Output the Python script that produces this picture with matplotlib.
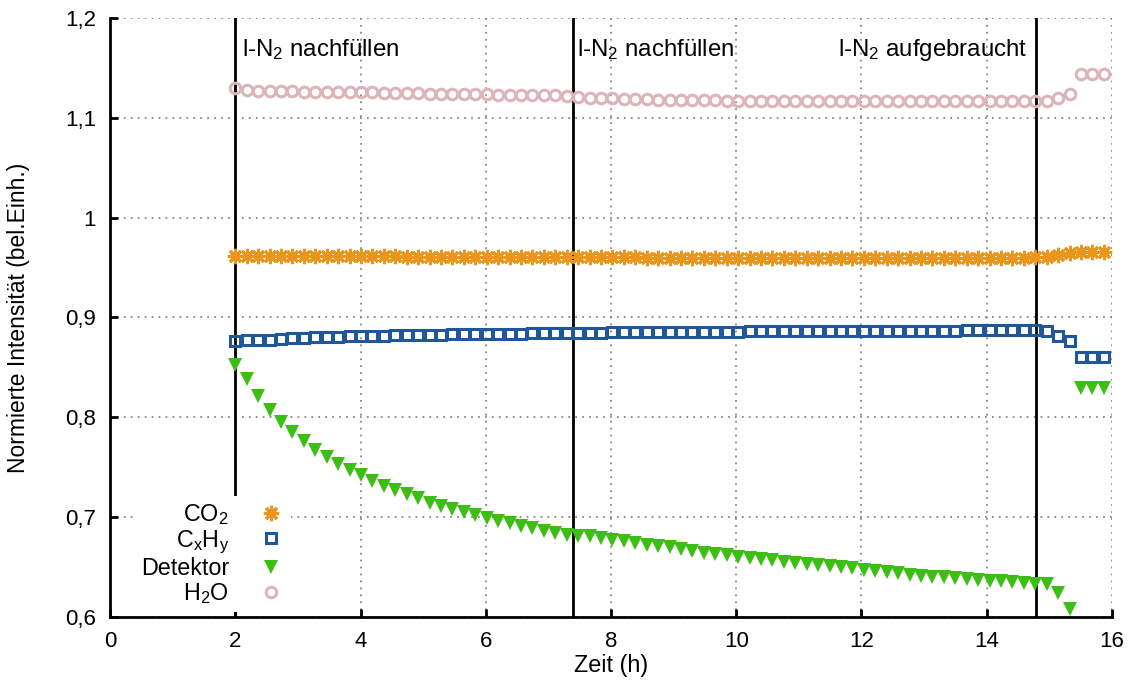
import numpy as np
import matplotlib
matplotlib.use('Agg')
import matplotlib.pyplot as plt
from matplotlib.ticker import FuncFormatter

plt.rcParams['font.family'] = ['Liberation Sans', 'DejaVu Sans']
plt.rcParams['mathtext.default'] = 'regular'
plt.rcParams['font.size'] = 16

# Messwerte (normiert), Abtastung alle ~11 min ab t = 2 h
t_start = 2.0
t_step = 0.1825

detektor = [0.852, 0.8386, 0.8216, 0.8069, 0.7949, 0.7849, 0.7758, 0.7675, 0.7601, 0.7535,
            0.7474, 0.7418, 0.7364, 0.7317, 0.727, 0.723, 0.7195, 0.7143, 0.7113, 0.7083,
            0.7047, 0.7017, 0.699, 0.6963, 0.6937, 0.691, 0.6887, 0.6866, 0.6843, 0.6823,
            0.681, 0.681, 0.679, 0.6773, 0.676, 0.674, 0.6726, 0.6712, 0.6696, 0.6682,
            0.6662, 0.6642, 0.6629, 0.6619, 0.6602, 0.6592, 0.6579, 0.6566, 0.6552, 0.6542,
            0.6529, 0.6516, 0.6508, 0.6499, 0.6489, 0.6472, 0.6456, 0.6446, 0.6436, 0.6422,
            0.6412, 0.6402, 0.6399, 0.6389, 0.6382, 0.6372, 0.6362, 0.6359, 0.6349, 0.6339,
            0.6326, 0.6326, 0.6245, 0.6077, 0.829, 0.829, 0.829]

cxhy = [0.876, 0.8774, 0.8776, 0.8779, 0.8787, 0.879, 0.8797, 0.88, 0.8804, 0.8807,
        0.881, 0.8813, 0.8817, 0.8817, 0.882, 0.8824, 0.8824, 0.8824, 0.8827, 0.883,
        0.883, 0.8834, 0.8837, 0.8837, 0.8837, 0.8837, 0.884, 0.8844, 0.8844, 0.8844,
        0.8847, 0.8847, 0.8847, 0.885, 0.8854, 0.8854, 0.8854, 0.8855, 0.8855, 0.8856,
        0.8857, 0.8857, 0.8858, 0.8858, 0.8859, 0.886, 0.8862, 0.8862, 0.8863, 0.8863,
        0.8864, 0.8864, 0.8865, 0.8865, 0.8866, 0.8866, 0.8867, 0.8867, 0.8868, 0.8868,
        0.8868, 0.8869, 0.8869, 0.8869, 0.887, 0.887, 0.887, 0.887, 0.887, 0.887,
        0.887, 0.8861, 0.8818, 0.8763, 0.8606, 0.8606, 0.8606]

co2 = [0.9612, 0.9612, 0.9612, 0.9612, 0.9612, 0.9612, 0.9612, 0.9612, 0.9612, 0.9612,
       0.9612, 0.9612, 0.9612, 0.9612, 0.9612, 0.961, 0.961, 0.961, 0.961, 0.961,
       0.961, 0.9605, 0.9605, 0.9605, 0.9605, 0.9605, 0.9605, 0.9605, 0.9605, 0.9605,
       0.9605, 0.9605, 0.9605, 0.9605, 0.9605, 0.9605, 0.96, 0.96, 0.96, 0.96,
       0.96, 0.96, 0.96, 0.96, 0.96, 0.96, 0.96, 0.96, 0.96, 0.96,
       0.96, 0.9595, 0.9595, 0.9595, 0.9595, 0.9595, 0.9595, 0.9595, 0.9595, 0.9595,
       0.9595, 0.9595, 0.9595, 0.9595, 0.9595, 0.9595, 0.9595, 0.96, 0.96, 0.96,
       0.9602, 0.961, 0.9628, 0.9646, 0.9657, 0.9657, 0.9657]

h2o = [1.130, 1.128, 1.1272, 1.1269, 1.1266, 1.1266, 1.1262, 1.1262, 1.1259, 1.1259,
       1.1255, 1.1255, 1.1255, 1.1252, 1.1249, 1.1245, 1.1245, 1.1242, 1.1242, 1.124,
       1.124, 1.1238, 1.1235, 1.1232, 1.1232, 1.1228, 1.1228, 1.1225, 1.1225, 1.1222,
       1.1208, 1.1202, 1.1202, 1.1195, 1.1192, 1.1188, 1.1185, 1.1182, 1.118, 1.1178,
       1.1178, 1.1175, 1.1175, 1.1172, 1.1172, 1.117, 1.117, 1.117, 1.117, 1.1168,
       1.1168, 1.1168, 1.1168, 1.1168, 1.1166, 1.1166, 1.1166, 1.1166, 1.1166, 1.1166,
       1.1166, 1.1166, 1.1166, 1.1166, 1.1166, 1.1166, 1.1166, 1.1166, 1.1166, 1.1166,
       1.1166, 1.117, 1.1195, 1.124, 1.144, 1.144, 1.144]

zeit = t_start + t_step * np.arange(len(detektor))

ereignis_zeit = [2.0, 7.4, 14.78]
ereignis_text = ['l-N$_2$ nachfüllen', 'l-N$_2$ nachfüllen', 'l-N$_2$ aufgebraucht']
ereignis_text_x = [2.1, 7.46, 11.62]

xticks = [0, 2, 4, 6, 8, 10, 12, 14, 16]
yticks = [0.6, 0.7, 0.8, 0.9, 1.0, 1.1, 1.2]

fig = plt.figure(figsize=(11.32, 6.85), dpi=100)
ax = fig.add_axes([0.0972, 0.0993, 0.8851, 0.8744])

for x in ereignis_zeit:
    ax.axvline(x, color='black', lw=2, zorder=2)
for x, txt in zip(ereignis_text_x, ereignis_text):
    ax.text(x, 1.162, txt, ha='left', va='baseline', fontsize=17.3)

ax.plot(zeit, co2, ls='none', marker=(8, 2, 0), ms=11, mew=2.2,
        color='#e8961e', label='CO$_2$', zorder=3)
ax.plot(zeit, cxhy, ls='none', marker='s', ms=6.8, mew=2.2, mfc='none',
        color='#1f5799', label='C$_x$H$_y$', zorder=3)
ax.plot(zeit, detektor, ls='none', marker='v', ms=9.5, mew=0,
        color='#3cbe14', label='Detektor', zorder=3)
ax.plot(zeit, h2o, ls='none', marker='o', ms=7.6, mew=2.2, mfc='none',
        color='#dcb4b9', label='H$_2$O', zorder=3)

ax.set_xlim(0, 16)
ax.set_ylim(0.6, 1.2)
ax.set_xticks(xticks)
ax.set_yticks(yticks)
ax.yaxis.set_major_formatter(FuncFormatter(lambda v, p: ('%g' % round(v, 2)).replace('.', ',')))
ax.tick_params(direction='in', length=6, width=2, pad=10, labelsize=16,
               top=False, right=False)
ax.grid(True, color='#808080', linestyle=(0, (1, 3)), lw=1.25)
for s in ['top', 'right']:
    ax.spines[s].set_visible(False)
for s in ['left', 'bottom']:
    ax.spines[s].set_linewidth(2)

ax.set_xlabel('Zeit (h)', fontsize=16.8)
ax.set_ylabel('Normierte Intensität (bel.Einh.)', fontsize=16.5)
ax.xaxis.set_label_coords(0.5, -0.062)
ax.yaxis.set_label_coords(-0.080, 0.5)

leg = ax.legend(loc='lower right', bbox_to_anchor=(0.1806, 0.009), markerfirst=False,
                frameon=True, fancybox=False, edgecolor='none', facecolor='white',
                framealpha=1, handlelength=1.2, handletextpad=1.2, labelspacing=0.05,
                borderpad=0.25, borderaxespad=0, numpoints=1, fontsize=16.8)
leg.set_zorder(5)

fig.savefig('out.png', dpi=100)
